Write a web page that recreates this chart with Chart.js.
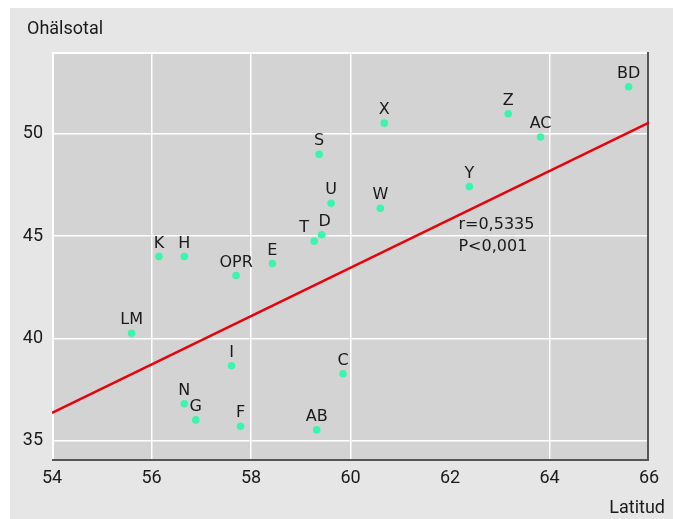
<!DOCTYPE html>
<html>
<head>
<meta charset="utf-8">
<script src="https://cdn.jsdelivr.net/npm/chart.js@4"></script>
<style>
  html, body { margin: 0; padding: 0; background: #fff; }
  #wrap { width: 673px; height: 519px; }
</style>
</head>
<body>
<div id="wrap"><canvas id="chart"></canvas></div>
<script>
"use strict";

// Regions: label, latitude, ohälsotal
const labels = ["BD", "X", "Z", "AC", "S", "Y", "U", "W", "D", "T", "K", "H", "E", "OPR", "LM", "I", "C", "N", "G", "F", "AB"];
const latitude = [65.59, 60.68, 63.17, 63.82, 59.37, 62.39, 59.61, 60.60, 59.42, 59.27, 56.15, 56.66, 58.43, 57.70, 55.60, 57.61, 59.85, 56.66, 56.89, 57.79, 59.32];
const ohalsotal = [52.3, 50.52, 50.98, 49.84, 49.0, 47.42, 46.6, 46.36, 45.06, 44.75, 44.0, 44.0, 43.66, 43.07, 40.25, 38.66, 38.27, 36.8, 36.01, 35.7, 35.52];

// regression line end points
const fitX = [54, 66];
const fitY = [36.35, 50.55];

const xTicks = [54, 56, 58, 60, 62, 64, 66];
const yTicks = [35, 40, 45, 50];
const statText = ["r=0,5335", "P<0,001"];

const points = latitude.map((v, i) => ({ x: v, y: ohalsotal[i] }));
const fit = fitX.map((v, i) => ({ x: v, y: fitY[i] }));

const labelFont = "16px 'DejaVu Sans'";
const nudge = { T: -10, D: 3 };

const framePlugin = {
  id: "frame",
  beforeDraw(chart) {
    const { ctx, chartArea: a } = chart;
    ctx.save();
    ctx.fillStyle = "#e6e6e6";
    ctx.fillRect(10, 8, chart.width - 10, chart.height - 8);
    ctx.fillStyle = "#d3d3d3";
    ctx.fillRect(a.left, a.top, a.right - a.left, a.bottom - a.top);
    ctx.restore();
  },
  beforeDatasetsDraw(chart) {
    const { ctx, chartArea: a } = chart;
    ctx.save();
    ctx.lineWidth = 2;
    ctx.strokeStyle = "#ffffff";
    ctx.beginPath();
    ctx.moveTo(a.left + 1, a.bottom);
    ctx.lineTo(a.left + 1, a.top + 1);
    ctx.lineTo(a.right, a.top + 1);
    ctx.stroke();
    ctx.strokeStyle = "#555555";
    ctx.beginPath();
    ctx.moveTo(a.right - 1, a.top);
    ctx.lineTo(a.right - 1, a.bottom - 1);
    ctx.lineTo(a.left, a.bottom - 1);
    ctx.stroke();
    ctx.restore();
  },
  afterDatasetsDraw(chart) {
    const { ctx } = chart;
    const meta = chart.getDatasetMeta(1);
    ctx.save();
    ctx.font = labelFont;
    ctx.fillStyle = "#1a1a1a";
    ctx.textAlign = "center";
    ctx.textBaseline = "middle";
    meta.data.forEach((pt, i) => {
      const name = labels[i];
      ctx.fillText(name, pt.x + (nudge[name] || 0), pt.y - 13);
    });
    // correlation text
    const sx = chart.scales.x.getPixelForValue(62.17);
    const sy = chart.scales.y.getPixelForValue(45.55);
    ctx.textAlign = "left";
    ctx.fillText(statText[0], sx, sy);
    ctx.fillText(statText[1], sx, sy + 22);
    // axis titles
    ctx.font = "18px Roboto";
    ctx.fillText("Ohälsotal", 27, 29);
    ctx.textAlign = "right";
    ctx.fillText("Latitud", 665, 508);
    ctx.restore();
  },
};

const config = {
  type: "scatter",
  data: {
    datasets: [
      {
        type: "line",
        data: fit,
        borderColor: "#e8000b",
        borderWidth: 2.5,
        pointRadius: 0,
        fill: false,
        order: 2,
      },
      {
        data: points,
        backgroundColor: "#3cf5ac",
        borderWidth: 0,
        pointRadius: 3.8,
        order: 1,
      },
    ],
  },
  options: {
    responsive: true,
    maintainAspectRatio: false,
    animation: false,
    layout: { padding: { left: 10, top: 52, right: 24, bottom: 0 } },
    plugins: { legend: { display: false }, tooltip: { enabled: false } },
    scales: {
      x: {
        type: "linear",
        min: 54,
        max: 66,
        afterBuildTicks: (s) => { s.ticks = xTicks.map((v) => ({ value: v })); },
        afterFit: (s) => { s.height = 58; },
        border: { display: false },
        grid: {
          drawTicks: false,
          lineWidth: 1.5,
          color: (c) => ([56, 58, 60, 64].includes(c.tick.value) ? "#ffffff" : "rgba(0,0,0,0)"),
        },
        ticks: {
          padding: 7,
          color: "#1a1a1a",
          font: { family: "Roboto", size: 18 },
        },
      },
      y: {
        min: 34,
        max: 54,
        afterBuildTicks: (s) => { s.ticks = yTicks.map((v) => ({ value: v })); },
        afterFit: (s) => { s.width = 42; },
        border: { display: false },
        grid: {
          drawTicks: false,
          lineWidth: 1.5,
          color: "#ffffff",
        },
        ticks: {
          padding: 9,
          color: "#1a1a1a",
          font: { family: "Roboto", size: 18 },
        },
      },
    },
  },
  plugins: [framePlugin],
};

const myChart = new Chart(document.getElementById("chart"), config);
</script>
</body>
</html>
